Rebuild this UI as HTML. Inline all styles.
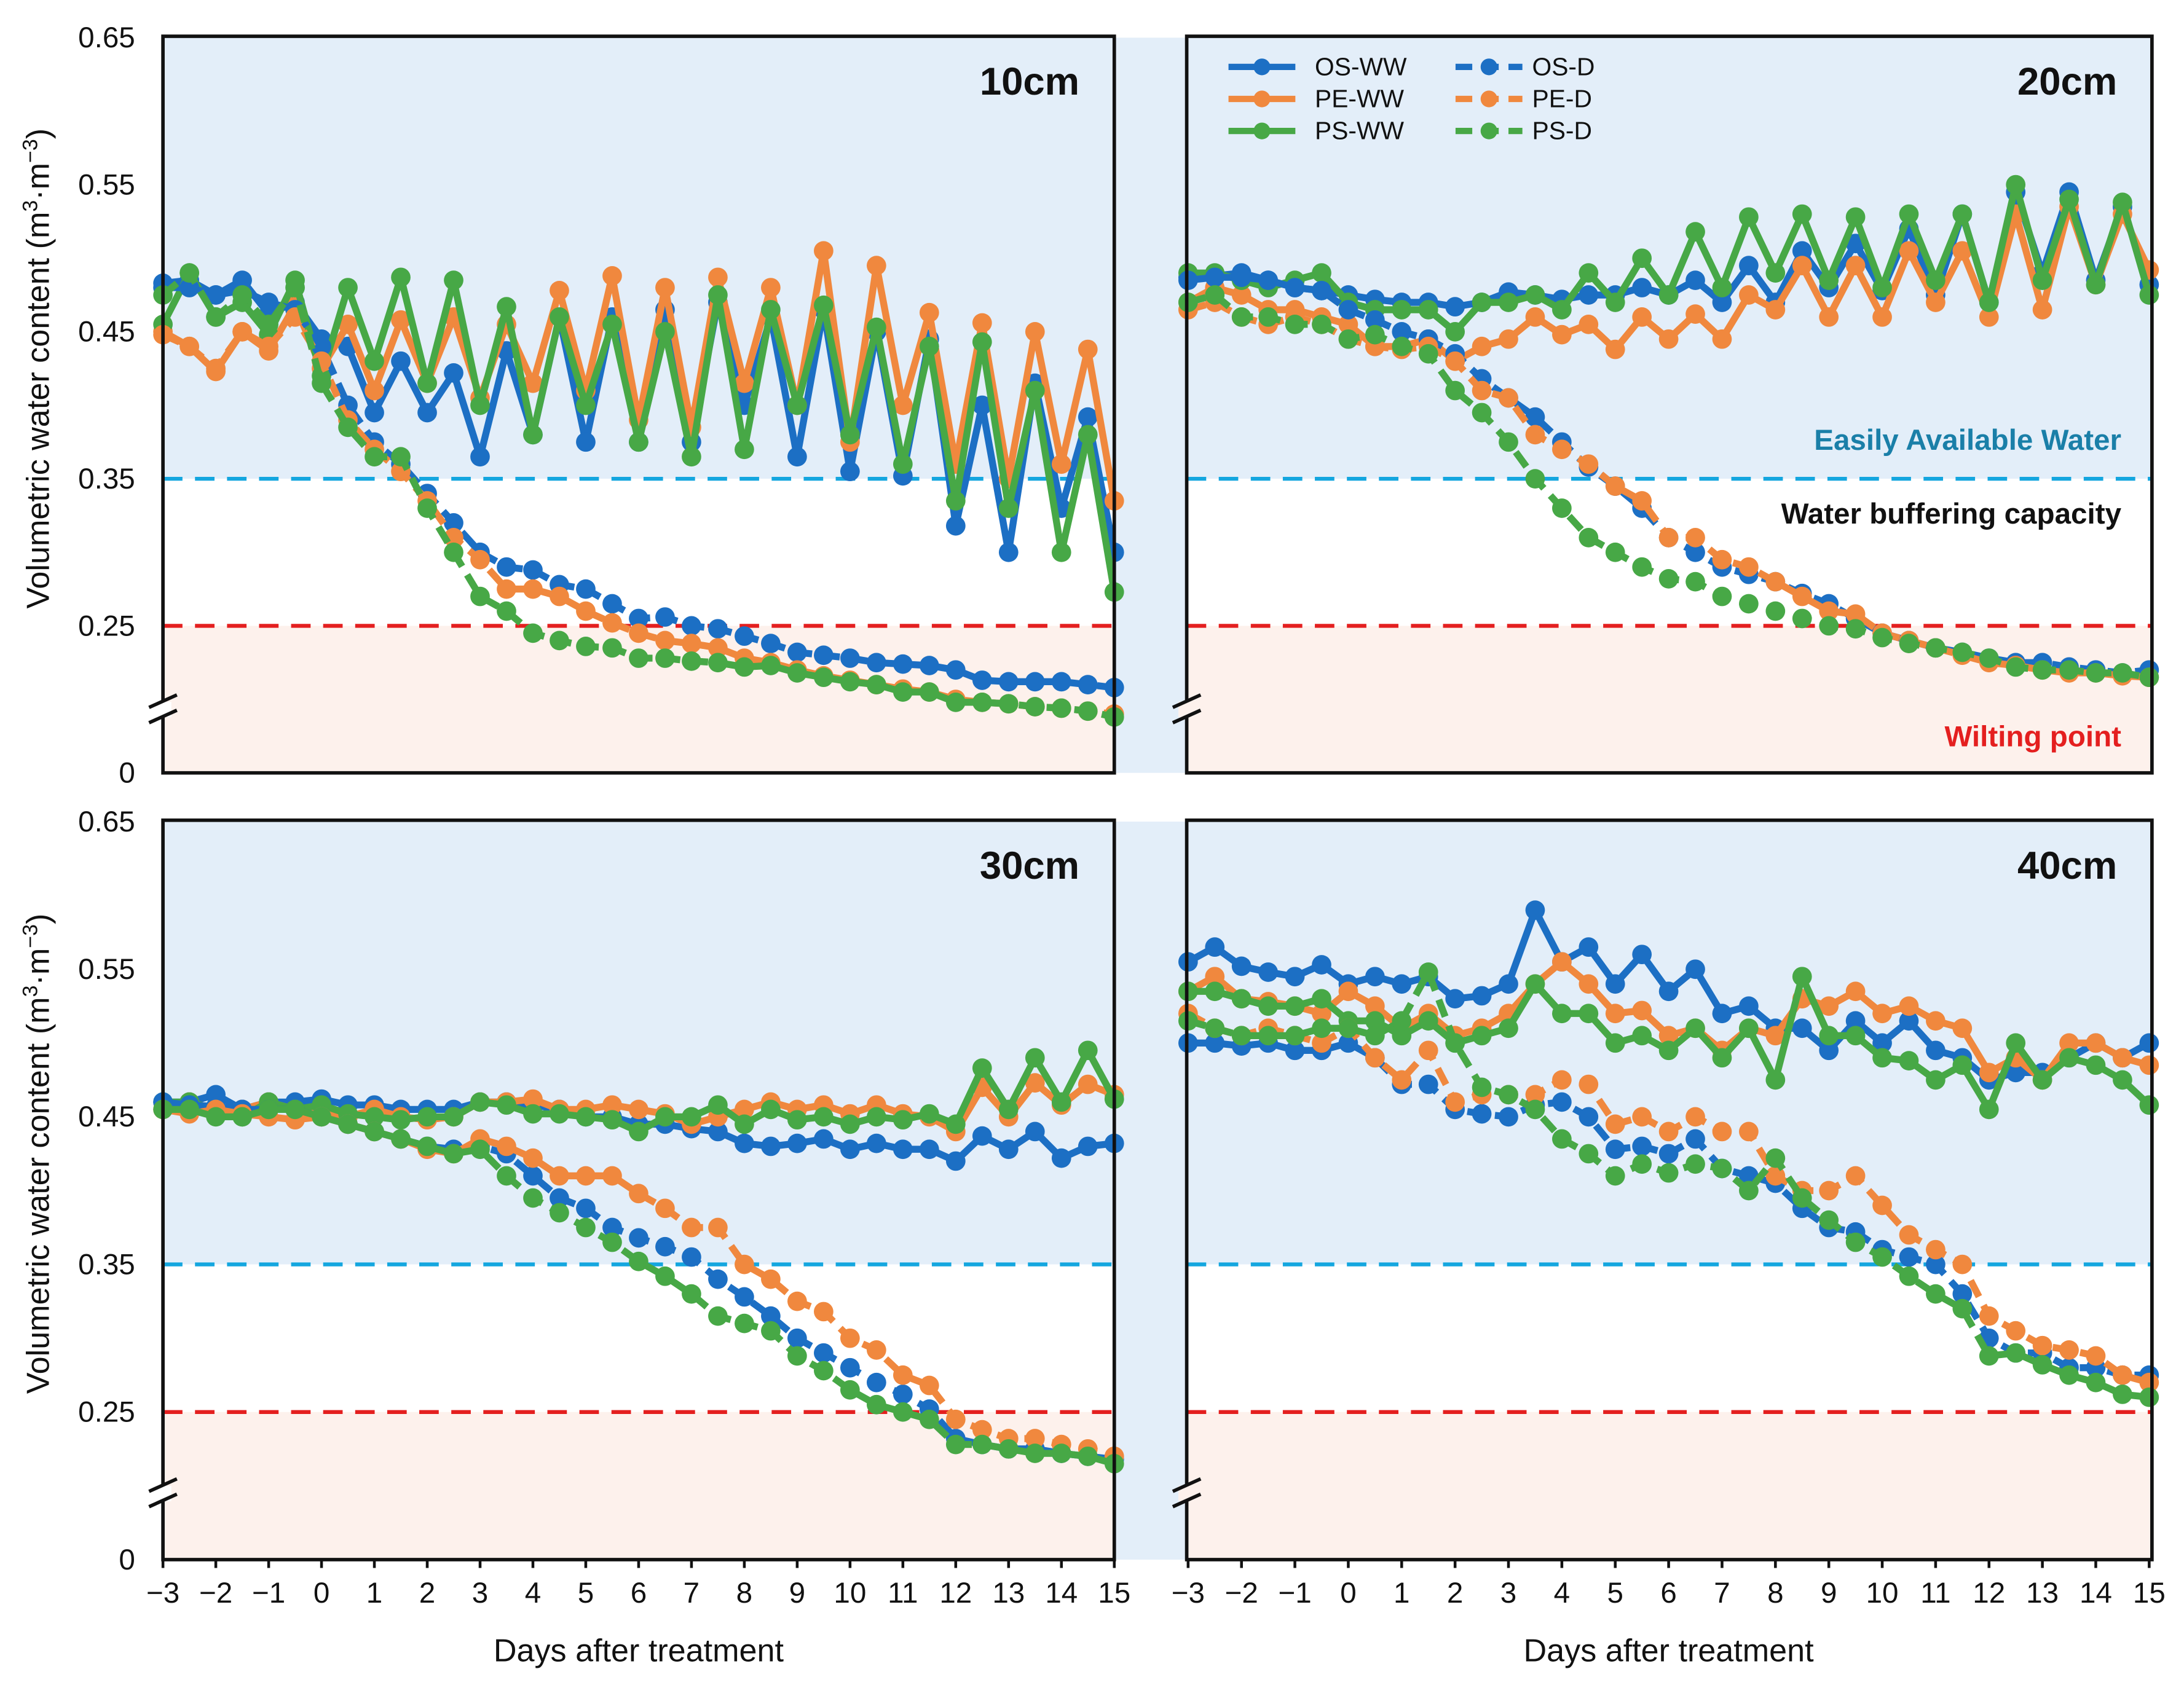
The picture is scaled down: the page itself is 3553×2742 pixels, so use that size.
<!DOCTYPE html>
<html><head><meta charset="utf-8"><style>
html,body{margin:0;padding:0;background:#fff}
svg{display:block}
text{font-family:"Liberation Sans",Arial,sans-serif}
</style></head><body>
<svg id="chart" width="3553" height="2742" viewBox="0 0 1568 1210" xmlns="http://www.w3.org/2000/svg"></svg>
<script>
const days = [];
for (let i = 0; i <= 36; i++) days.push(-3 + i * 0.5);
const seriesNames = ["OS-WW","PE-WW","PS-WW","OS-D","PE-D","PS-D"];
const seriesColors = ["#1c6fc4","#f0883e","#47a846","#1c6fc4","#f0883e","#47a846"];
const xTickLabels = [-3,-2,-1,0,1,2,3,4,5,6,7,8,9,10,11,12,13,14,15];
const yTickValues = [0.65,0.55,0.45,0.35,0.25,0.15];
const yTickLabels = ["0.65","0.55","0.45","0.35","0.25","0"];
const panelTitles = ["10cm","20cm","30cm","40cm"];

const d10_osww=[0.483,0.485,0.475,0.485,0.462,0.47,0.445,0.44,0.395,0.43,0.395,0.422,0.365,0.437,0.38,0.46,0.375,0.46,0.375,0.465,0.375,0.47,0.4,0.46,0.365,0.465,0.355,0.45,0.352,0.445,0.318,0.40,0.30,0.415,0.33,0.392,0.30];
const d10_peww=[0.45,0.44,0.423,0.45,0.437,0.468,0.425,0.455,0.41,0.458,0.415,0.46,0.405,0.455,0.415,0.478,0.41,0.488,0.39,0.48,0.385,0.487,0.415,0.48,0.40,0.505,0.375,0.495,0.40,0.463,0.36,0.456,0.35,0.45,0.36,0.438,0.335];
const d10_psww=[0.455,0.49,0.46,0.47,0.448,0.485,0.42,0.48,0.43,0.487,0.415,0.485,0.40,0.467,0.38,0.46,0.40,0.455,0.375,0.45,0.365,0.475,0.37,0.465,0.40,0.468,0.38,0.453,0.36,0.44,0.335,0.443,0.33,0.41,0.30,0.38,0.273];
const d10_osd=[0.48,0.48,0.475,0.478,0.47,0.465,0.44,0.40,0.375,0.36,0.34,0.32,0.30,0.29,0.288,0.278,0.275,0.265,0.255,0.256,0.25,0.248,0.243,0.238,0.232,0.23,0.228,0.225,0.224,0.223,0.22,0.213,0.212,0.212,0.212,0.21,0.208];
const d10_ped=[0.448,0.44,0.425,0.45,0.44,0.46,0.43,0.39,0.37,0.355,0.335,0.31,0.295,0.275,0.275,0.27,0.26,0.252,0.245,0.24,0.238,0.235,0.228,0.225,0.22,0.216,0.213,0.21,0.207,0.205,0.2,0.198,0.197,0.195,0.194,0.192,0.19];
const d10_psd=[0.475,0.49,0.46,0.475,0.455,0.48,0.415,0.385,0.365,0.365,0.33,0.30,0.27,0.26,0.245,0.24,0.236,0.235,0.228,0.228,0.226,0.225,0.222,0.223,0.218,0.215,0.212,0.21,0.205,0.205,0.198,0.198,0.197,0.195,0.194,0.192,0.188];

const d20_osww=[0.487,0.488,0.49,0.485,0.48,0.478,0.475,0.472,0.47,0.47,0.467,0.47,0.477,0.475,0.472,0.475,0.475,0.48,0.475,0.485,0.47,0.495,0.47,0.505,0.48,0.51,0.478,0.52,0.475,0.53,0.47,0.545,0.49,0.545,0.485,0.535,0.482];
const d20_peww=[0.47,0.48,0.475,0.465,0.465,0.46,0.455,0.44,0.44,0.445,0.43,0.44,0.445,0.46,0.448,0.455,0.438,0.46,0.445,0.462,0.445,0.475,0.465,0.495,0.46,0.495,0.46,0.505,0.47,0.505,0.46,0.53,0.465,0.535,0.482,0.53,0.492];
const d20_psww=[0.49,0.49,0.485,0.48,0.485,0.49,0.47,0.465,0.465,0.465,0.45,0.47,0.47,0.475,0.465,0.49,0.47,0.5,0.475,0.518,0.48,0.528,0.49,0.53,0.485,0.528,0.48,0.53,0.485,0.53,0.47,0.55,0.485,0.54,0.482,0.538,0.475];
const d20_osd=[0.485,0.487,0.487,0.485,0.48,0.478,0.465,0.458,0.45,0.445,0.435,0.418,0.405,0.392,0.375,0.358,0.345,0.33,0.31,0.3,0.29,0.285,0.28,0.272,0.265,0.255,0.245,0.24,0.235,0.232,0.228,0.225,0.225,0.222,0.22,0.218,0.22];
const d20_ped=[0.465,0.47,0.46,0.455,0.46,0.455,0.445,0.44,0.438,0.44,0.43,0.41,0.405,0.38,0.37,0.36,0.345,0.335,0.31,0.31,0.295,0.29,0.28,0.27,0.26,0.258,0.245,0.24,0.235,0.23,0.225,0.223,0.22,0.218,0.218,0.216,0.215];
const d20_psd=[0.47,0.475,0.46,0.46,0.455,0.455,0.445,0.448,0.44,0.435,0.41,0.395,0.375,0.35,0.33,0.31,0.3,0.29,0.282,0.28,0.27,0.265,0.26,0.255,0.25,0.248,0.242,0.238,0.235,0.232,0.228,0.222,0.22,0.22,0.218,0.218,0.215];

const d30_osww=[0.46,0.46,0.465,0.455,0.46,0.46,0.462,0.458,0.458,0.455,0.455,0.455,0.46,0.46,0.458,0.455,0.45,0.45,0.445,0.445,0.442,0.44,0.432,0.43,0.432,0.435,0.428,0.432,0.428,0.428,0.42,0.437,0.428,0.44,0.422,0.43,0.432];
const d30_peww=[0.455,0.46,0.455,0.455,0.46,0.455,0.452,0.45,0.455,0.45,0.448,0.45,0.46,0.46,0.462,0.455,0.455,0.458,0.455,0.452,0.445,0.45,0.455,0.46,0.455,0.458,0.452,0.458,0.452,0.45,0.44,0.47,0.45,0.473,0.458,0.472,0.465];
const d30_psww=[0.46,0.46,0.455,0.45,0.46,0.455,0.458,0.452,0.45,0.448,0.45,0.45,0.46,0.458,0.452,0.452,0.45,0.448,0.44,0.45,0.45,0.458,0.445,0.455,0.448,0.45,0.445,0.45,0.448,0.452,0.445,0.483,0.455,0.49,0.46,0.495,0.462];
const d30_osd=[0.46,0.458,0.457,0.455,0.455,0.455,0.45,0.445,0.44,0.435,0.43,0.428,0.43,0.425,0.41,0.395,0.388,0.375,0.368,0.362,0.355,0.34,0.328,0.315,0.3,0.29,0.28,0.27,0.262,0.252,0.232,0.228,0.225,0.225,0.222,0.22,0.218];
const d30_ped=[0.455,0.452,0.455,0.452,0.45,0.448,0.45,0.445,0.44,0.435,0.428,0.425,0.435,0.43,0.422,0.41,0.41,0.41,0.398,0.388,0.375,0.375,0.35,0.34,0.325,0.318,0.3,0.292,0.275,0.268,0.245,0.238,0.232,0.232,0.228,0.225,0.22];
const d30_psd=[0.455,0.455,0.45,0.45,0.455,0.455,0.45,0.445,0.44,0.435,0.43,0.425,0.428,0.41,0.395,0.385,0.375,0.365,0.352,0.342,0.33,0.315,0.31,0.305,0.288,0.278,0.265,0.255,0.25,0.245,0.228,0.228,0.225,0.222,0.222,0.22,0.215];

const d40_osww=[0.555,0.565,0.552,0.548,0.545,0.553,0.54,0.545,0.54,0.545,0.53,0.532,0.54,0.59,0.555,0.565,0.54,0.56,0.535,0.55,0.52,0.525,0.51,0.51,0.495,0.515,0.5,0.515,0.495,0.49,0.475,0.48,0.48,0.49,0.5,0.49,0.5];
const d40_peww=[0.535,0.545,0.53,0.528,0.525,0.52,0.535,0.525,0.51,0.52,0.505,0.51,0.52,0.54,0.555,0.54,0.52,0.522,0.505,0.51,0.495,0.51,0.505,0.53,0.525,0.535,0.52,0.525,0.515,0.51,0.48,0.49,0.475,0.5,0.5,0.49,0.485];
const d40_psww=[0.535,0.535,0.53,0.525,0.525,0.53,0.515,0.515,0.505,0.515,0.5,0.505,0.51,0.54,0.52,0.52,0.5,0.505,0.495,0.51,0.49,0.51,0.475,0.545,0.505,0.505,0.49,0.488,0.475,0.485,0.455,0.5,0.475,0.49,0.485,0.475,0.458];
const d40_osd=[0.5,0.5,0.498,0.5,0.495,0.495,0.5,0.49,0.472,0.472,0.455,0.452,0.45,0.458,0.46,0.45,0.428,0.43,0.425,0.435,0.415,0.41,0.405,0.388,0.375,0.372,0.36,0.355,0.35,0.33,0.3,0.29,0.29,0.28,0.28,0.275,0.275];
const d40_ped=[0.52,0.51,0.505,0.51,0.505,0.5,0.51,0.49,0.475,0.495,0.46,0.465,0.465,0.465,0.475,0.472,0.445,0.45,0.44,0.45,0.44,0.44,0.41,0.4,0.4,0.41,0.39,0.37,0.36,0.35,0.315,0.305,0.295,0.292,0.288,0.275,0.27];
const d40_psd=[0.515,0.51,0.505,0.505,0.505,0.51,0.51,0.505,0.515,0.548,0.5,0.47,0.465,0.455,0.435,0.425,0.41,0.418,0.412,0.418,0.415,0.4,0.422,0.395,0.38,0.365,0.355,0.342,0.33,0.32,0.288,0.29,0.282,0.275,0.27,0.262,0.26];

const panelData = [
  [d10_osww,d10_peww,d10_psww,d10_osd,d10_ped,d10_psd],
  [d20_osww,d20_peww,d20_psww,d20_osd,d20_ped,d20_psd],
  [d30_osww,d30_peww,d30_psww,d30_osd,d30_ped,d30_psd],
  [d40_osww,d40_peww,d40_psww,d40_osd,d40_ped,d40_psd]
];

const NS="http://www.w3.org/2000/svg";
const svg=document.getElementById('chart');
function mk(tag,attrs,parent){const e=document.createElementNS(NS,tag);for(const k in attrs)e.setAttribute(k,attrs[k]);(parent||svg).appendChild(e);return e;}

const panels=[
 {x0:117,x1:800,bx0:117,bx1:800,y0:27,y1:555,left:true,bottom:false},
 {x0:853,x1:1543,bx0:852,bx1:1545,y0:27,y1:555,left:false,bottom:false},
 {x0:117,x1:800,bx0:117,bx1:800,y0:590,y1:1120,left:true,bottom:true},
 {x0:853,x1:1543,bx0:852,bx1:1545,y0:590,y1:1120,left:false,bottom:true}
];

[[27,555],[590,1120]].forEach(function(r){
  const g=mk('rect',{x:800,y:r[0],width:52,height:r[1]-r[0],fill:'#e3eef9'});
  
  
});

panels.forEach(function(p,pi){
  const xs=function(t){return p.x0+(t+3)/18*(p.x1-p.x0);};
  const ys=function(v){return p.y0+(0.65-v)/0.5*(p.y1-p.y0);};
  const g=mk('g',{});
  
  
  let r=mk('rect',{x:p.bx0,y:p.y0,width:p.bx1-p.bx0,height:ys(0.35)-p.y0,fill:'#e3eef9'},g);
  
  r=mk('rect',{x:p.bx0,y:ys(0.35),width:p.bx1-p.bx0,height:ys(0.25)-ys(0.35),fill:'#ffffff'},g);
  
  r=mk('rect',{x:p.bx0,y:ys(0.25),width:p.bx1-p.bx0,height:p.y1-ys(0.25),fill:'#fdf1ec'},g);
  
  let l=mk('line',{x1:p.bx0,x2:p.bx1,y1:ys(0.35),y2:ys(0.35),stroke:'#14a6df','stroke-width':2.8,'stroke-dasharray':'14,9'},g);
  
  l=mk('line',{x1:p.bx0,x2:p.bx1,y1:ys(0.25),y2:ys(0.25),stroke:'#e41f1f','stroke-width':2.8,'stroke-dasharray':'14,9'},g);
  
  panelData[pi].forEach(function(vals,si){
    const sg=mk('g',{},g);
    
    
    const pts=vals.map(function(v,i){return xs(days[i]).toFixed(1)+','+ys(v).toFixed(1);}).join(' ');
    const pl=mk('polyline',{points:pts,fill:'none',stroke:seriesColors[si],'stroke-width':5,'stroke-linejoin':'round'},sg);
    if(si>=3)pl.setAttribute('stroke-dasharray','13,7');
    
    
    vals.forEach(function(v,i){
      const c=mk('circle',{cx:xs(days[i]),cy:ys(v),r:7,fill:seriesColors[si]},sg);
      
      
    });
  });
  const f=mk('rect',{x:p.bx0,y:p.y0-1,width:p.bx1-p.bx0,height:p.y1-p.y0+1,fill:'none',stroke:'#111','stroke-width':2.5},g);
  
  const bm=mk('g',{},g);
  
  mk('rect',{x:p.bx0-6,y:504+(p.y0-27),width:12,height:11,fill:(p.left?'#fff':'#fdf1ec')},bm);
  mk('line',{x1:p.bx0-10,y1:508+(p.y0-27),x2:p.bx0+10,y2:499+(p.y0-27),stroke:'#111','stroke-width':2.5},bm);
  mk('line',{x1:p.bx0-10,y1:519+(p.y0-27),x2:p.bx0+10,y2:510+(p.y0-27),stroke:'#111','stroke-width':2.5},bm);
  if(p.left){
    yTickValues.forEach(function(v,i){
      const t=mk('text',{x:97,y:ys(v)+7,'text-anchor':'end','font-size':21,fill:'#111'});
      t.textContent=yTickLabels[i];
      
    });
    const cy=(p.y0+ys(0.2))/2;
    const yt=mk('text',{x:0,y:0,'text-anchor':'middle','font-size':23,fill:'#111',transform:'translate(35,'+cy+') rotate(-90)'});
    yt.innerHTML='Volumetric water content (m<tspan baseline-shift="super" font-size="15">3</tspan>·m<tspan baseline-shift="super" font-size="15">−3</tspan>)';
    
  }
  if(p.bottom){
    xTickLabels.forEach(function(d){
      const t=mk('text',{x:xs(d),y:p.y1+31,'text-anchor':'middle','font-size':21,fill:'#111'});
      t.textContent=(d<0?'\u2212'+(-d):String(d));
      
      mk('line',{x1:xs(d),x2:xs(d),y1:p.y1,y2:p.y1+6,stroke:'#111','stroke-width':2},g);
    });
    const xt=mk('text',{x:(p.x0+p.x1)/2,y:p.y1+73,'text-anchor':'middle','font-size':23,fill:'#111'});
    xt.textContent='Days after treatment';
    
  }
  const pt=mk('text',{x:p.bx1-25,y:p.y0+41,'text-anchor':'end','font-size':28,'font-weight':'bold',fill:'#111'});
  pt.textContent=panelTitles[pi];
  
});

let a=mk('text',{x:1523,y:323,'text-anchor':'end','font-size':21,'font-weight':'bold',fill:'#1a7fa8'});
a.textContent='Easily Available Water';
a=mk('text',{x:1523,y:376,'text-anchor':'end','font-size':21,'font-weight':'bold',fill:'#111'});
a.textContent='Water buffering capacity';
a=mk('text',{x:1523,y:536,'text-anchor':'end','font-size':21,'font-weight':'bold',fill:'#e41f1f'});
a.textContent='Wilting point';

const lg=mk('g',{});

seriesNames.forEach(function(n,i){
  const col=i<3?0:1, row=i%3;
  const lx=col?1045:882, ly=48+row*23;
  const e=mk('g',{},lg);
  
  
  const ln=mk('line',{x1:lx,x2:lx+48,y1:ly,y2:ly,stroke:seriesColors[i],'stroke-width':4.5},e);
  if(i>=3)ln.setAttribute('stroke-dasharray','12,7');
  mk('circle',{cx:lx+24,cy:ly,r:6,fill:seriesColors[i]},e);
  const t=mk('text',{x:lx+(col?55:62),y:ly+6,'font-size':18,fill:'#111'},e);
  t.textContent=n;
});
</script>
</body></html>
